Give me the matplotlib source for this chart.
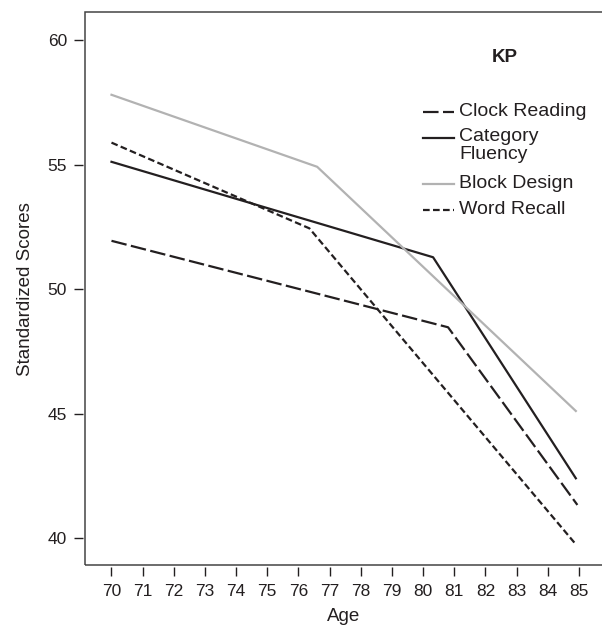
import matplotlib
matplotlib.use("Agg")
import matplotlib.pyplot as plt
from matplotlib.patches import Rectangle

plt.rcParams['font.family'] = ['Liberation Sans', 'DejaVu Sans']

# Data
clock_age = [70.0, 80.8, 84.95]
clock_val = [51.94, 48.47, 41.34]
cat_age = [70.0, 80.32, 84.9]
cat_val = [55.11, 51.28, 42.41]
block_age = [70.0, 76.6, 84.9]
block_val = [57.80, 54.91, 45.11]
word_age = [70.0, 76.35, 84.9]
word_val = [55.88, 52.44, 39.76]

x_ticks = list(range(70, 86))
y_ticks = [40, 45, 50, 55, 60]

dark = '#231f20'
grey = '#b2b2b2'

fig = plt.figure(figsize=(6.02, 6.28), dpi=100)
ax = fig.add_axes([85/602, 1-565/628, 1-85/602, (565-12.3)/628])

lw = 1.6
clock_dash = (7, 2)
word_dash = (3.0, 1.5)
ax.plot(clock_age, clock_val, color=dark, lw=lw, dashes=clock_dash)
ax.plot(cat_age, cat_val, color=dark, lw=lw)
ax.plot(block_age, block_val, color=grey, lw=lw)
ax.plot(word_age, word_val, color=dark, lw=lw, dashes=word_dash)

ax.set_xlim(69.15, 85.74)
ax.set_ylim(38.93, 61.11)
ax.set_xticks(x_ticks)
ax.set_yticks(y_ticks)
ax.tick_params(axis='both', direction='out', length=6.5, width=1.0, color=dark,
               labelsize=12.5, labelcolor=dark)
ax.tick_params(axis='x', pad=6)
ax.tick_params(axis='y', pad=5)

for s in ['left', 'bottom']:
    ax.spines[s].set_position(('outward', 1.5))
    ax.spines[s].set_color('none')
ax.spines['right'].set_visible(False)
ax.spines['top'].set_visible(False)
ax.add_patch(Rectangle((0, 0), 1.2, 1, transform=ax.transAxes, fill=False,
                       edgecolor='#444444', lw=1.1, clip_on=False))

ax.set_xlabel('Age', fontsize=13.5, color=dark, labelpad=6)
ax.set_ylabel('Standardized Scores', fontsize=13.5, color=dark, labelpad=10)

# Title inside plot
ax.text((505-85)/517, 1-(57-12.3)/552.7, 'KP', transform=ax.transAxes,
        fontsize=13.5, fontweight='bold', ha='center', va='center', color=dark)

# Legend (manual, handle aligned with first text line)
def fx(px):
    return (px - 85) / 517
def fy(py):
    return 1 - (py - 12.3) / 552.7

entries = [
    ('Clock Reading', dark, clock_dash, 112),
    ('Category\nFluency', dark, None, 138),
    ('Block Design', grey, None, 184),
    ('Word Recall', dark, word_dash, 210),
]
for label, col, dsh, py in entries:
    kw = dict(color=col, lw=lw, transform=ax.transAxes, clip_on=False)
    if dsh is not None:
        kw['dashes'] = dsh
    ax.plot([fx(423), fx(454)], [fy(py), fy(py)], **kw)
    multi = '\n' in label
    ax.text(fx(459), fy(128) if multi else fy(py), label, transform=ax.transAxes,
            fontsize=14, ha='left', va='top' if multi else 'center', color=dark,
            linespacing=1.1)

fig.savefig('out.png', dpi=100)
